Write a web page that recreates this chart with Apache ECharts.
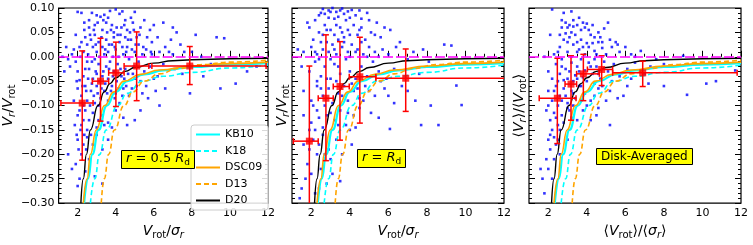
<!DOCTYPE html>
<html><head><meta charset="utf-8">
<script src="https://cdn.jsdelivr.net/npm/echarts@6/dist/echarts.min.js"></script>
<style>html,body{margin:0;padding:0;background:#fff}#c{width:753px;height:245px}</style>
</head><body><div id="c"></div><script>
// ---- tick values ----
const xMajor = [2, 4, 6, 8, 10, 12];
const xMinor = [1, 1.5, 2.5, 3, 3.5, 4.5, 5, 5.5, 6.5, 7, 7.5, 8.5, 9, 9.5, 10.5, 11, 11.5];
const yMajor = [-0.30, -0.25, -0.20, -0.15, -0.10, -0.05, 0.00, 0.05, 0.10];
const yMinor = [-0.29,-0.28,-0.27,-0.26,-0.24,-0.23,-0.22,-0.21,-0.19,-0.18,-0.17,-0.16,-0.14,-0.13,-0.12,-0.11,
  -0.09,-0.08,-0.07,-0.06,-0.04,-0.03,-0.02,-0.01,0.01,0.02,0.03,0.04,0.06,0.07,0.08,0.09];
const refY = 0.0;

// ---- model curves (same in every panel) ----
const KB10 = [[2.34,-0.30],[2.55,-0.25],[2.77,-0.20],[3.10,-0.15],[3.53,-0.10],[4.00,-0.072],[4.62,-0.050],[5.50,-0.036],[6.50,-0.028],[8.00,-0.021],[10.0,-0.016],[12.0,-0.013]];
const K18  = [[2.67,-0.30],[2.90,-0.25],[3.15,-0.20],[3.50,-0.15],[4.10,-0.10],[4.60,-0.075],[5.40,-0.050],[6.50,-0.040],[8.00,-0.032],[10.0,-0.023],[12.0,-0.017]];
const DSC09= [[2.30,-0.30],[2.50,-0.25],[2.67,-0.20],[2.98,-0.15],[3.41,-0.10],[3.90,-0.072],[4.44,-0.050],[5.30,-0.036],[6.30,-0.027],[8.00,-0.019],[10.0,-0.014],[12.0,-0.011]];
const D13  = [[3.24,-0.30],[3.40,-0.25],[3.63,-0.20],[3.93,-0.15],[4.44,-0.10],[4.90,-0.072],[5.50,-0.050],[6.30,-0.035],[7.30,-0.024],[8.50,-0.016],[10.0,-0.011],[12.0,-0.007]];
const D20  = [[2.17,-0.30],[2.30,-0.25],[2.46,-0.20],[2.67,-0.15],[3.07,-0.10],[3.40,-0.072],[3.70,-0.055],[4.00,-0.043],[4.50,-0.030],[5.00,-0.022],[6.00,-0.013],[7.00,-0.008],[8.00,-0.006],[10.0,-0.004],[12.0,-0.003]];

// ---- binned medians: [x, y, xlo, xhi, ylo, yhi] ----
const bins1 = [[2.24,-0.095,1.12,2.81,-0.212,0.012],[3.20,-0.050,2.77,3.63,-0.132,0.038],[4.01,-0.033,3.63,4.44,-0.102,0.030],[5.10,-0.019,4.44,5.74,-0.090,0.051],[7.89,-0.019,5.90,11.9,-0.057,0.021]];
const bins2 = [[1.90,-0.173,1.07,2.36,-0.32,-0.019],[2.76,-0.085,2.36,3.14,-0.213,0.045],[3.49,-0.061,3.14,3.97,-0.171,0.031],[4.52,-0.041,3.97,5.35,-0.136,0.040],[6.90,-0.044,5.35,12.1,-0.112,0.016]];
const bins3 = [[2.47,-0.085,1.53,3.44,-0.178,-0.003],[3.18,-0.056,2.87,3.47,-0.130,0.002],[3.82,-0.035,3.47,4.65,-0.090,0.005],[4.77,-0.026,4.03,5.34,-0.059,0.002],[6.90,-0.033,5.34,11.8,-0.061,-0.009]];

// ---- individual galaxies ----
const pts1 = [[2.0,0.092],[2.2,0.09],[3.2,0.082],[4.0,0.097],[4.2,0.088],[3.7,0.094],[5.0,0.092],[4.8,0.08],[3.0,0.085],[2.6,0.075],[3.4,0.086],[4.5,0.075],
[3.5,0.07],[2.9,0.065],[3.8,0.065],[4.3,0.06],[4.9,0.07],[5.5,0.075],[5.3,0.06],[6.0,0.065],[5.8,0.055],[6.5,0.07],[7.0,0.06],[7.2,0.05],[8.2,0.045],[9.3,0.04],[9.7,0.038],[6.9,0.035],[5.9,0.03],[4.6,0.055],[3.3,0.055],[2.6,0.06],[1.9,0.045],[3.9,0.05],[4.1,0.045],
[1.2,0.0],[1.5,-0.005],[1.7,0.005],[1.8,0.015],[2.1,0.02],[2.3,0.01],[2.5,0.025],[2.7,0.035],[2.8,0.02],[3.0,0.01],[3.1,0.03],[3.3,0.02],[3.5,0.035],[3.6,0.01],[3.8,0.025],[4.0,0.015],[4.2,0.03],[4.4,0.005],[4.6,0.02],[4.8,0.035],[5.0,0.01],[5.2,0.025],[5.4,0.005],[5.6,0.015],[5.9,0.005],[6.3,0.01],[6.6,0.02],[7.0,0.005],[7.6,0.01],[8.5,0.0],[2.4,0.04],[2.9,0.045],[3.4,0.005],[3.9,0.04],[4.5,0.04],[5.1,0.04],[2.2,0.03],
[1.6,-0.02],[2.0,-0.03],[2.3,-0.04],[2.5,-0.01],[2.6,-0.025],[2.8,-0.045],[2.9,-0.005],[3.0,-0.035],[3.1,-0.015],[3.3,-0.04],[3.5,-0.02],[3.6,-0.045],[3.7,-0.01],[3.9,-0.03],[4.1,-0.015],[4.3,-0.04],[4.5,-0.025],[4.7,-0.005],[4.9,-0.035],[5.2,-0.01],[5.5,-0.03],[5.8,-0.02],[6.2,-0.04],[6.5,-0.015],[7.1,-0.025],[7.5,-0.035],[8.0,-0.02],[8.6,-0.04],[9.0,-0.015],[10.3,-0.055],[6.0,-0.045],[5.0,-0.045],[2.1,-0.048],
[2.0,-0.065],[2.2,-0.08],[2.4,-0.06],[2.5,-0.09],[2.7,-0.07],[2.9,-0.095],[3.0,-0.06],[3.2,-0.085],[3.4,-0.07],[3.6,-0.09],[3.8,-0.06],[4.0,-0.075],[4.2,-0.095],[4.4,-0.065],[4.7,-0.08],[5.1,-0.06],[5.4,-0.075],[5.7,-0.085],[6.1,-0.07],[6.6,-0.065],[2.3,-0.1],[3.1,-0.1],[1.8,-0.09],
[2.0,-0.12],[2.2,-0.14],[2.4,-0.11],[2.6,-0.13],[2.8,-0.115],[3.0,-0.145],[3.3,-0.12],[3.6,-0.135],[4.0,-0.11],[4.4,-0.125],[5.0,-0.13],[2.5,-0.15],[3.8,-0.145],
[2.0,-0.17],[2.2,-0.2],[2.3,-0.18],[2.5,-0.165],[1.9,-0.22],[2.1,-0.25],[2.6,-0.21],[2.8,-0.18],[3.0,-0.16],[3.3,-0.19],[3.6,-0.17],[1.7,-0.23],[2.4,-0.235],[2.9,-0.245],[1.5,-0.2],[3.3,-0.26],[2.0,-0.265],
[2.1,-0.11],[2.15,-0.15],[2.05,-0.19],[2.3,-0.13],[2.25,-0.06],[2.45,-0.07],[2.55,-0.045],[2.65,-0.1],[2.75,-0.055],[2.85,-0.08],[2.95,-0.03],[3.05,-0.075],[3.15,-0.05],[3.25,-0.065],[3.35,-0.03],[3.45,-0.055],[3.55,-0.075],[3.65,-0.025],[3.75,-0.07],[3.85,-0.04],[3.95,-0.085],[4.05,-0.05],[4.15,-0.065],[4.25,-0.025],[4.35,-0.08],[4.45,-0.045],[4.55,-0.06],[4.65,-0.035],[4.85,-0.065],[4.95,-0.02],[5.3,-0.05],[5.6,-0.06],
[2.35,0.055],[2.55,0.005],[2.65,0.045],[2.75,-0.01],[2.85,0.055],[2.95,0.025],[3.05,0.07],[3.15,0.0],[3.25,0.04],[3.35,0.075],[3.45,0.015],[3.55,0.05],[3.65,0.025],[3.75,0.055],[3.85,0.0],[3.95,0.02],[4.05,0.06],[4.15,0.0],[4.25,0.045],[4.35,0.02],[4.45,0.065],[4.55,0.01],[4.65,0.035],[4.75,0.05],[4.85,0.015],[4.95,0.055],[5.05,0.025],[5.25,0.045],[5.45,0.02],[5.65,0.04],[5.85,0.01],[6.2,0.04],[6.8,0.01],[7.4,0.025],[8.0,0.01],
[1.3,-0.03],[1.4,0.02],[1.9,-0.01],[1.95,-0.05],[2.15,0.0],[2.4,-0.025],[1.85,-0.14],[1.95,-0.16],[2.35,-0.16],[2.45,-0.19],[2.7,-0.16],[3.1,-0.13],[3.4,-0.14],[4.6,-0.14],[5.3,-0.11],[6.3,-0.1],[7.9,-0.075],[9.5,-0.065],[10.9,-0.03],[11.4,-0.02],[2.75,0.09],[3.6,0.08],[4.35,0.093],[2.35,0.07]];
const pts2 = [[2.6,0.098],[2.9,0.095],[3.1,0.1],[3.3,0.092],[3.6,0.099],[2.4,0.085],[2.9,0.08],[4.1,0.096],[4.3,0.085],[4.9,0.09],[5.4,0.07],[3.8,0.075],[2.2,0.075],[1.8,0.07],
[1.9,0.06],[2.4,0.05],[2.7,0.065],[3.0,0.055],[3.2,0.045],[3.5,0.06],[3.7,0.04],[3.9,0.055],[4.2,0.065],[4.4,0.045],[4.6,0.06],[5.1,0.05],[5.6,0.04],[6.1,0.055],[6.6,0.03],[2.1,0.035],[2.5,0.03],[3.4,0.035],[4.8,0.035],
[1.3,0.015],[1.6,0.01],[2.0,0.02],[2.3,0.005],[2.6,0.015],[2.9,0.01],[3.1,0.025],[3.3,0.005],[3.6,0.02],[3.9,0.01],[4.1,0.025],[4.4,0.015],[4.7,0.005],[5.0,0.02],[5.3,0.01],[5.7,0.015],[6.0,0.005],[6.4,0.02],[7.3,0.01],[7.8,0.015],[8.9,0.025],[9.27,0.023],
[1.5,-0.02],[1.9,-0.03],[2.2,-0.01],[2.5,-0.04],[2.7,-0.02],[3.0,-0.045],[3.2,-0.015],[3.5,-0.035],[3.8,-0.005],[4.0,-0.03],[4.3,-0.045],[4.6,-0.02],[4.9,-0.04],[5.2,-0.01],[5.5,-0.03],[5.9,-0.045],[6.3,-0.025],[7.0,-0.005],[7.6,-0.035],[8.1,-0.01],
[1.6,-0.07],[2.0,-0.09],[2.3,-0.06],[2.6,-0.08],[2.9,-0.065],[3.1,-0.095],[3.4,-0.075],[3.7,-0.06],[3.9,-0.09],[4.2,-0.07],[4.5,-0.085],[4.8,-0.06],[5.3,-0.08],[5.8,-0.065],[6.3,-0.095],[7.0,-0.07],[9.53,-0.059],[9.8,-0.099],[8.2,-0.1],
[1.6,-0.12],[2.0,-0.135],[2.3,-0.11],[2.6,-0.145],[2.8,-0.12],[3.2,-0.13],[3.5,-0.11],[3.8,-0.14],[4.2,-0.12],[4.5,-0.105],[5.1,-0.115],[6.08,-0.148],[7.7,-0.14],[8.6,-0.14],[4.0,-0.15],
[1.6,-0.18],[1.8,-0.22],[2.1,-0.17],[2.3,-0.2],[2.6,-0.16],[2.9,-0.19],[3.3,-0.17],[1.5,-0.27],[1.7,-0.25],[2.5,-0.23],[3.1,-0.24],[2.2,-0.28],[3.6,-0.2],[1.4,-0.29],[2.8,-0.26],[4.1,-0.18],[3.5,-0.255],
[2.5,0.09],[2.7,0.088],[3.0,0.092],[3.2,0.078],[3.4,0.082],[3.5,0.095],[3.7,0.088],[3.9,0.093],[4.0,0.08],[4.5,0.095],[4.6,0.078],[5.0,0.075],[3.3,0.065],[2.8,0.055],[2.6,0.045],[3.6,0.05],[4.0,0.045],[4.5,0.055],[5.3,0.045],[5.8,0.06],
[2.2,0.01],[2.4,-0.005],[2.8,0.03],[3.0,-0.005],[3.2,0.015],[3.4,-0.02],[3.7,0.03],[4.0,0.0],[4.3,0.01],[4.6,0.03],[4.9,0.0],[5.5,0.0],
[2.3,-0.05],[2.5,-0.065],[2.8,-0.045],[3.3,-0.05],[3.6,-0.08],[4.1,-0.055],[4.4,-0.065],[4.7,-0.09],[5.0,-0.07],[5.6,-0.05],[6.0,-0.08],[6.7,-0.06],[7.4,-0.09],
[2.1,-0.1],[2.4,-0.125],[2.7,-0.1],[3.0,-0.115],[3.4,-0.14],[3.9,-0.115],[4.3,-0.145],[5.5,-0.125],[1.9,-0.15],[2.2,-0.15],[2.4,-0.18],[2.7,-0.2],[3.0,-0.21],[1.9,-0.19],[2.0,-0.24],[2.4,-0.27]];
const pts3 = [[2.2,0.097],[2.8,0.09],[3.2,0.093],[2.7,0.075],[3.5,0.065],[3.8,0.07],[4.0,0.068],[3.3,0.062],[3.0,0.06],[3.9,0.06],[4.3,0.065],[5.1,0.07],[4.6,0.05],[2.1,0.045],[4.9,0.058],[5.5,0.03],
[1.8,0.0],[2.3,0.005],[2.6,0.02],[2.8,0.035],[3.0,0.01],[3.1,0.04],[3.3,0.025],[3.4,0.045],[3.6,0.015],[3.7,0.035],[3.9,0.005],[4.0,0.028],[4.2,0.045],[4.4,0.012],[4.6,0.03],[4.8,0.018],[5.0,0.005],[5.3,0.02],[5.7,0.01],[6.3,0.005],[6.8,0.012],[9.0,0.002],[2.9,0.048],[3.5,0.03],[4.1,0.02],[4.7,0.04],[3.2,0.0],[2.5,0.01],
[2.0,-0.03],[2.2,-0.045],[2.4,-0.015],[2.6,-0.035],[2.7,-0.005],[2.9,-0.025],[3.0,-0.045],[3.2,-0.012],[3.4,-0.038],[3.5,-0.02],[3.7,-0.005],[3.8,-0.042],[3.9,-0.028],[4.1,-0.012],[4.3,-0.035],[4.5,-0.02],[4.7,-0.045],[4.9,-0.01],[5.1,-0.03],[5.4,-0.015],[5.7,-0.04],[6.1,-0.025],[6.5,-0.012],[7.0,-0.035],[7.3,-0.02],[8.0,-0.015],[11.7,-0.028],[2.8,-0.048],[3.6,-0.03],[4.4,-0.005],
[2.0,-0.07],[2.2,-0.09],[2.4,-0.06],[2.6,-0.08],[2.8,-0.065],[3.0,-0.095],[3.2,-0.07],[3.4,-0.085],[3.6,-0.06],[3.9,-0.075],[4.2,-0.09],[4.6,-0.065],[5.2,-0.07],[5.6,-0.085],[6.1,-0.06],[7.2,-0.055],[8.0,-0.06],[9.2,-0.078],[10.2,-0.055],[10.7,-0.05],[2.5,-0.1],[3.3,-0.1],[4.0,-0.1],
[1.9,-0.11],[2.1,-0.13],[2.3,-0.115],[2.5,-0.14],[2.7,-0.12],[3.0,-0.105],[3.5,-0.13],[4.2,-0.13],[4.5,-0.12],[5.2,-0.14],[2.2,-0.15],
[2.0,-0.17],[2.1,-0.19],[2.3,-0.165],[1.9,-0.21],[2.4,-0.18],[1.6,-0.23],[1.8,-0.28],[2.2,-0.25],[2.6,-0.2],[3.0,-0.17],
[2.7,0.06],[2.9,0.07],[3.1,0.065],[3.3,0.075],[3.6,0.08],[3.7,0.055],[4.1,0.055],[4.4,0.04],[2.6,0.045],[3.0,0.03],[3.2,0.05],[3.5,0.01],[3.8,0.02],[4.3,0.028],[4.5,0.005],[4.8,0.03],[5.2,0.035],[5.6,0.025],[6.0,0.02],
[2.7,-0.02],[3.1,-0.03],[3.3,-0.05],[3.5,-0.045],[3.7,-0.06],[4.0,-0.05],[4.2,-0.02],[4.4,-0.055],[4.6,-0.035],[4.8,-0.06],[5.3,-0.05],[6.3,-0.045],
[2.3,-0.07],[2.5,-0.05],[2.7,-0.09],[2.9,-0.08],[3.1,-0.11],[3.3,-0.075],[3.7,-0.09],[4.4,-0.08],[5.0,-0.09],[5.9,-0.08],[2.0,-0.1],[2.4,-0.125],[2.6,-0.15],[2.8,-0.135],[3.2,-0.125],[3.8,-0.11],[4.6,-0.105],[2.1,-0.16],[2.3,-0.21],[1.7,-0.25],[2.0,-0.23],[2.5,-0.17],
[6.5,0.0],[7.6,-0.005],[8.4,-0.02]];

const panels = [
  {pts: pts1, bins: bins1, left: 55, width: 213, yLabels: true,
   xName: '{i|V}{s|rot}{n|/}{i|σ}{si|r}', yName: '{i|V}{si|r}{n|/}{i|V}{s|rot}', yGap: 20,
   box: '{i|r}{n| = 0.5 }{i|R}{s|d}', boxLeft: 121, boxTop: 148},
  {pts: pts2, bins: bins2, left: 292, width: 212, yLabels: false,
   xName: '{i|V}{s|rot}{n|/}{i|σ}{si|r}', yName: '{i|V}{si|r}{n|/}{i|V}{s|rot}', yGap: 1,
   box: '{i|r}{n| = }{i|R}{s|d}', boxLeft: 357, boxTop: 147},
  {pts: pts3, bins: bins3, left: 529, width: 212, yLabels: false,
   xName: '{n|⟨}{i|V}{s|rot}{n|⟩/⟨}{i|σ}{si|r}{n|⟩}', yName: '{n|⟨}{i|V}{si|r}{n|⟩/⟨}{i|V}{s|rot}{n|⟩}', yGap: 1,
   box: '{b|Disk-Averaged}', boxLeft: 596, boxTop: 147}
];

const FONT = 'DejaVu Sans';
const nameRich = {
  i: {fontFamily: FONT, fontStyle: 'italic', fontSize: 14, lineHeight: 18, color: '#000'},
  n: {fontFamily: FONT, fontSize: 14, lineHeight: 18, color: '#000'},
  s: {fontFamily: FONT, fontSize: 10, lineHeight: 8, verticalAlign: 'bottom', color: '#000'},
  si: {fontFamily: FONT, fontStyle: 'italic', fontSize: 10, lineHeight: 8, verticalAlign: 'bottom', color: '#000'}
};
const boxRich = {
  i: {fontFamily: FONT, fontStyle: 'italic', fontSize: 13, lineHeight: 17, color: '#000'},
  n: {fontFamily: FONT, fontSize: 13, lineHeight: 17, color: '#000'},
  s: {fontFamily: FONT, fontSize: 9, lineHeight: 8, verticalAlign: 'bottom', color: '#000'},
  b: {fontFamily: FONT, fontSize: 12, lineHeight: 15, color: '#000'}
};

const fmtY = v => (v < 0 ? '\u2212' : '') + Math.abs(v).toFixed(2);

const grid = [], xAxis = [], yAxis = [], series = [], title = [];
const tickStyle = {color: '#000', width: 1};
panels.forEach((p, k) => {
  grid.push({left: p.left, width: p.width, top: 8, height: 203, show: true, borderColor: '#000', borderWidth: 1.2, backgroundColor: 'transparent'});
  const xBase = {gridIndex: k, type: 'value', min: 1, max: 12, splitLine: {show: false}, axisLine: {show: false}};
  xAxis.push(Object.assign({}, xBase, {
    position: 'bottom',
    axisTick: {show: true, inside: true, length: 6, lineStyle: tickStyle, customValues: xMajor},
    axisLabel: {show: true, customValues: xMajor, color: '#000', fontSize: 11, fontFamily: FONT, margin: 5},
    name: p.xName, nameLocation: 'middle', nameGap: 13, nameTextStyle: {rich: nameRich}
  }));
  xAxis.push(Object.assign({}, xBase, {
    position: 'bottom',
    axisTick: {show: true, inside: true, length: 3, lineStyle: tickStyle, customValues: xMinor},
    axisLabel: {show: false}
  }));
  const yBase = {gridIndex: k, type: 'value', min: -0.30, max: 0.10, splitLine: {show: false}, axisLine: {show: false}};
  yAxis.push(Object.assign({}, yBase, {
    position: 'left',
    axisTick: {show: true, inside: true, length: 6, lineStyle: tickStyle, customValues: yMajor},
    axisLabel: {show: p.yLabels, customValues: yMajor, formatter: fmtY, color: '#000', fontSize: 11, fontFamily: FONT, margin: 4},
    name: p.yName, nameLocation: 'middle', nameGap: p.yGap, nameTextStyle: {rich: nameRich}
  }));
  yAxis.push(Object.assign({}, yBase, {
    position: 'left',
    axisTick: {show: true, inside: true, length: 3, lineStyle: tickStyle, customValues: yMinor},
    axisLabel: {show: false}
  }));
  yAxis.push(Object.assign({}, yBase, {
    position: 'right',
    axisTick: {show: true, inside: true, length: 6, lineStyle: tickStyle, customValues: yMajor},
    axisLabel: {show: false}
  }));
  yAxis.push(Object.assign({}, yBase, {
    position: 'right',
    axisTick: {show: true, inside: true, length: 3, lineStyle: tickStyle, customValues: yMinor},
    axisLabel: {show: false}
  }));
  const xi = 2 * k, yi = 4 * k;
  series.push({
    type: 'scatter', xAxisIndex: xi, yAxisIndex: yi, data: p.pts, symbol: 'rect', symbolSize: 2.6,
    itemStyle: {color: '#0000ff'}, z: 1, silent: true, clip: true,
    markLine: {silent: true, symbol: 'none', label: {show: false},
      lineStyle: {color: '#ff00ff', type: [10, 3], width: 1.5}, data: [{yAxis: refY}]}
  });
  const curves = [
    ['KB10', KB10, '#00ffff', 'solid', 2.2],
    ['K18', K18, '#00ffff', [5, 3], 1.6],
    ['DSC09', DSC09, '#ffa500', 'solid', 1.6],
    ['D13', D13, '#ffa500', [5, 3], 1.6],
    ['D20', D20, '#000000', 'solid', 1.4]
  ];
  curves.forEach(c => series.push({
    type: 'line', name: c[0], xAxisIndex: xi, yAxisIndex: yi, data: c[1], symbol: 'none',
    smooth: 0.5, smoothMonotone: 'x', clip: true, z: 3, silent: true,
    lineStyle: {color: c[2], type: c[3], width: c[4]}, itemStyle: {color: c[2]}
  }));
  series.push({
    type: 'custom', xAxisIndex: xi, yAxisIndex: yi, data: p.bins, clip: true, z: 4, silent: true,
    encode: {x: [0, 2, 3], y: [1, 4, 5]},
    renderItem: (params, api) => {
      const x = api.value(0), y = api.value(1);
      const c = api.coord([x, y]);
      const xl = api.coord([api.value(2), y])[0], xh = api.coord([api.value(3), y])[0];
      const yl = api.coord([x, api.value(4)])[1], yh = api.coord([x, api.value(5)])[1];
      const st = {stroke: '#ff0000', lineWidth: 1.5};
      const cap = 3;
      const L = (x1, y1, x2, y2) => ({type: 'line', shape: {x1, y1, x2, y2}, style: st});
      return {type: 'group', children: [
        L(xl, c[1], xh, c[1]), L(c[0], yl, c[0], yh),
        L(c[0] - cap, yl, c[0] + cap, yl), L(c[0] - cap, yh, c[0] + cap, yh),
        L(xl, c[1] - cap, xl, c[1] + cap), L(xh, c[1] - cap, xh, c[1] + cap)
      ]};
    }
  });
  series.push({
    type: 'scatter', xAxisIndex: xi, yAxisIndex: yi, data: p.bins.map(b => [b[0], b[1]]),
    symbol: 'rect', symbolSize: 7, itemStyle: {color: '#ff0000'}, z: 5, silent: true
  });
  title.push({
    text: p.box, left: p.boxLeft, top: p.boxTop, backgroundColor: '#ffff00', borderColor: '#000', borderWidth: 1,
    padding: [2, 5, 2, 5], textStyle: {rich: boxRich, fontSize: 13, fontWeight: 'normal'}, z: 10
  });
});

const chart = echarts.init(document.getElementById('c'), null, {renderer: 'canvas'});
chart.setOption({
  animation: false,
  backgroundColor: '#fff',
  grid, xAxis, yAxis, series, title,
  legend: {
    data: ['KB10', 'K18', 'DSC09', 'D13', 'D20'], orient: 'vertical', left: 191, top: 125,
    itemWidth: 24, itemHeight: 10, itemGap: 5.5, padding: [4, 6, 4, 4],
    itemStyle: {opacity: 0},
    backgroundColor: 'rgba(255,255,255,0.85)', borderColor: '#cccccc', borderWidth: 1, borderRadius: 3,
    textStyle: {fontFamily: FONT, fontSize: 11, color: '#000'}, selectedMode: false, z: 10
  }
});
</script></body></html>
